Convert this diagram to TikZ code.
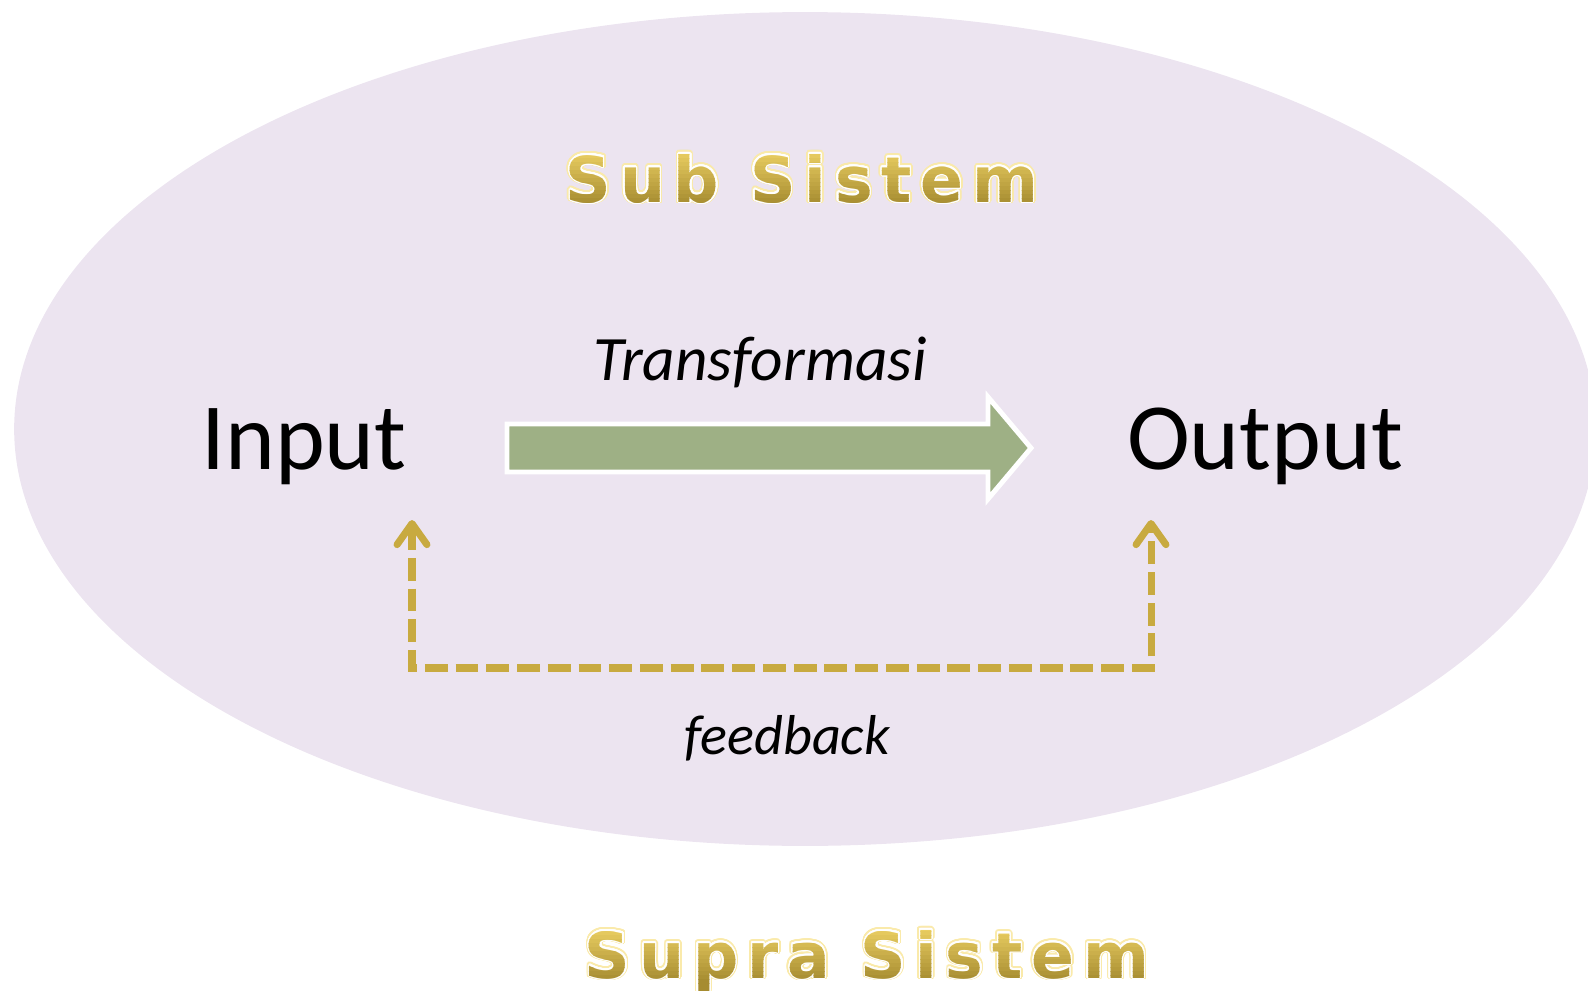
\documentclass[tikz,border=0pt]{standalone}
\usepackage{fontspec}
\setmainfont{Carlito}
\newfontfamily\titlefont[LetterSpace=14]{DejaVu Sans Bold}
\usepackage{contour}
\contournumber{32}
\usetikzlibrary{arrows.meta}

\definecolor{subfill}{RGB}{236,228,240}
\definecolor{arrowgreen}{RGB}{158,176,133}
\definecolor{fbgold}{RGB}{200,170,64}
\definecolor{goldtop}{RGB}{234,206,98}
\definecolor{goldbot}{RGB}{166,140,48}
\definecolor{goldglow}{RGB}{250,234,170}

\newcommand{\titlesize}{\titlefont\fontsize{36}{40}\selectfont}

\begin{document}
\begin{tikzpicture}[
  x=0.02cm, y=-0.02cm,
  word/.style={font=\fontsize{54}{60}\selectfont, inner sep=0pt, anchor=base},
  note/.style={font=\itshape\fontsize{36}{40}\selectfont, inner sep=0pt, anchor=base},
  title/.style={font=\titlesize, inner sep=0pt},
  transarrow/.style={fill=arrowgreen, draw=white, line width=2.8pt, miter limit=4},
  fbarrow/.style={draw=fbgold, line width=4pt, dash pattern=on 13pt off 4.5pt,
    {Straight Barb[length=12pt, width=17pt, round]}-{Straight Barb[length=12pt, width=17pt, round]}}
]
\useasboundingbox (0,0) rectangle (1588,990);
\clip (0,0) rectangle (1588,990);

% Sub system area
\fill[subfill] (805,429) ellipse [x radius=15.82cm, y radius=8.34cm];

% Titles: glow, white rim, then gold bands top to bottom
\node[title, text=goldglow] (subsys) at (802,179) {\contourlength{1.6pt}\contour{goldglow}{Sub Sistem}};
\node[title, text=white] at (subsys) {\contourlength{0.7pt}\contour{white}{Sub Sistem}};
\foreach \i in {0,...,13} {
  \pgfmathsetmacro{\mix}{100-\i*100/13}
  \begin{scope}
    \clip (520,150+\i*4) rectangle (1090,154+\i*4);
    \node[title, text=goldtop!\mix!goldbot] at (subsys) {Sub Sistem};
  \end{scope}
}

\node[title, text=goldglow] (suprasys) at (867,961) {\contourlength{1.6pt}\contour{goldglow}{Supra Sistem}};
\node[title, text=white] at (suprasys) {\contourlength{0.7pt}\contour{white}{Supra Sistem}};
\foreach \i in {0,...,13} {
  \pgfmathsetmacro{\mix}{100-\i*100/13}
  \begin{scope}
    \clip (560,927+\i*4) rectangle (1180,931+\i*4);
    \node[title, text=goldtop!\mix!goldbot] at (suprasys) {Supra Sistem};
  \end{scope}
}
\begin{scope}
  \clip (560,983) rectangle (1180,990);
  \node[title, text=goldbot] at (suprasys) {Supra Sistem};
\end{scope}

% Process
\node[word] (input) at (304,469) {Input};
\node[word] (output) at (1265,469) {Output};
\node[note] (trans) at (760,380) {Transformasi};
\draw[transarrow] (507,424) -- (988,424) -- (988,397) -- (1031,448)
  -- (988,499) -- (988,472) -- (507,472) -- cycle;

% Feedback loop
\coordinate (fbin) at (412,520);
\coordinate (fbout) at (1151,520);
\draw[fbarrow] (fbin) -- ++(0,148) -| (fbout);
\node[note, font=\itshape\fontsize{32}{36}\selectfont] (feedback) at (787,754) {feedback};

\end{tikzpicture}
\end{document}
